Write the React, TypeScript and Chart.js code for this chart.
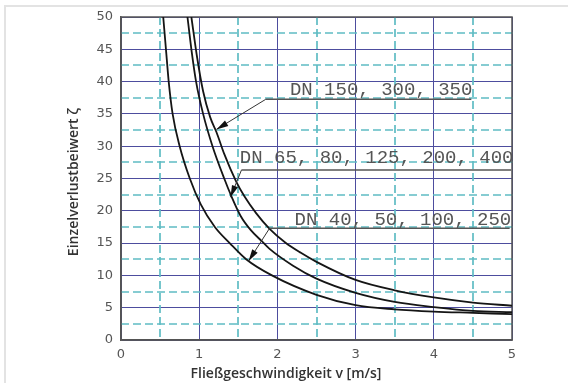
import React, { useEffect, useRef } from "react";
import { Chart, registerables } from "chart.js";

Chart.register(...registerables);

// Curve DN 150, 300, 350 (upper)
const V_UPPER = [0.9, 0.97, 1.05, 1.14, 1.22, 1.32, 1.47, 1.58, 1.73, 1.9, 2.1, 2.3, 2.5, 3, 3.5, 4, 4.5, 5];
const Z_UPPER = [50, 44, 38.5, 34.5, 32.2, 28.8, 24.6, 22.2, 19.6, 17.2, 15.1, 13.5, 12.1, 9.3, 7.7, 6.6, 5.8, 5.3];

// Curve DN 65, 80, 125, 200, 400 (middle)
const V_MID = [0.85, 0.9, 0.96, 1.05, 1.17, 1.32, 1.41, 1.53, 1.66, 1.8, 1.9, 2.2, 2.5, 3, 3.5, 4, 4.5, 5];
const Z_MID = [50, 45, 40, 35, 30, 25, 22.3, 19.2, 17, 15.3, 14.1, 11.5, 9.5, 7.3, 5.9, 5.1, 4.5, 4.3];

// Curve DN 40, 50, 100, 250 (lower)
const V_LOW = [0.54, 0.575, 0.61, 0.66, 0.75, 0.88, 1.02, 1.2, 1.39, 1.6, 1.93, 2.5, 3, 3.5, 4, 4.5, 5];
const Z_LOW = [50, 45, 40, 35, 30, 25, 21, 17.5, 15, 12.5, 10, 7, 5.4, 4.75, 4.4, 4.2, 4.0];

const SERIES_LABELS = ["DN 150, 300, 350", "DN 65, 80, 125, 200, 400", "DN 40, 50, 100, 250"];
const X_TITLE = "Fließgeschwindigkeit v [m/s]";
const Y_TITLE = "Einzelverlustbeiwert ζ";

const X_MIN = 0, X_MAX = 5, X_STEP = 1;
const Y_MIN = 0, Y_MAX = 50, Y_STEP = 5;

// annotation anchors (data units)
const LABEL_TEXT_X = [2.16, 1.52, 2.22];
const LABEL_BASE_Y = [37.9, 27.35, 17.8];
const LINE_Y = [37.25, 26.3, 17.3];
const LINE_X0 = [1.85, 1.54, 1.9];
const LINE_X1 = [4.48, 4.99, 4.97];
const TIP_X = [1.22, 1.4, 1.63];
const TIP_Y = [32.6, 22.1, 12.2];

const toPts = (xs: number[], ys: number[]) => xs.map((x, i) => ({ x, y: ys[i] }));

const decor = {
  id: "decor",
  beforeDraw(chart: any) {
    const { ctx } = chart;
    ctx.save();
    ctx.strokeStyle = "#e3e3e3";
    ctx.lineWidth = 2;
    ctx.beginPath();
    ctx.moveTo(5, 383);
    ctx.lineTo(5, 6);
    ctx.lineTo(568, 6);
    ctx.stroke();
    ctx.restore();
  },
  beforeDatasetsDraw(chart: any) {
    const { ctx, chartArea: a, scales } = chart;
    const x = scales.x, y = scales.y;
    ctx.save();
    ctx.strokeStyle = "#5fbcc4";
    ctx.lineWidth = 1.7;
    ctx.setLineDash([8, 4]);
    for (let v = X_MIN + X_STEP / 2; v < X_MAX; v += X_STEP) {
      const px = Math.round(x.getPixelForValue(v));
      ctx.beginPath();
      ctx.moveTo(px, a.top);
      ctx.lineTo(px, a.bottom);
      ctx.stroke();
    }
    for (let z = Y_MIN + Y_STEP / 2; z < Y_MAX; z += Y_STEP) {
      const py = Math.round(y.getPixelForValue(z));
      ctx.beginPath();
      ctx.moveTo(a.left, py);
      ctx.lineTo(a.right + 3, py);
      ctx.stroke();
    }
    ctx.setLineDash([]);
    ctx.strokeStyle = "#555";
    ctx.lineWidth = 1.5;
    ctx.strokeRect(a.left, a.top, a.right - a.left, a.bottom - a.top);
    ctx.restore();
  },
  afterDatasetsDraw(chart: any) {
    const { ctx, scales } = chart;
    const x = scales.x, y = scales.y;
    ctx.save();
    ctx.font = "19px 'Liberation Mono'";
    ctx.textBaseline = "alphabetic";
    ctx.textAlign = "left";
    for (let i = 0; i < SERIES_LABELS.length; i++) {
      ctx.fillStyle = "#555";
      ctx.fillText(SERIES_LABELS[i], x.getPixelForValue(LABEL_TEXT_X[i]), y.getPixelForValue(LABEL_BASE_Y[i]));
      const ly = y.getPixelForValue(LINE_Y[i]);
      const lx0 = x.getPixelForValue(LINE_X0[i]);
      const lx1 = x.getPixelForValue(LINE_X1[i]);
      const tx = x.getPixelForValue(TIP_X[i]);
      const ty = y.getPixelForValue(TIP_Y[i]);
      ctx.strokeStyle = "#555";
      ctx.lineWidth = 1.5;
      ctx.beginPath();
      ctx.moveTo(lx1, ly);
      ctx.lineTo(lx0, ly);
      ctx.stroke();
      ctx.lineWidth = 1;
      ctx.strokeStyle = "#333";
      ctx.beginPath();
      ctx.moveTo(lx0, ly);
      ctx.lineTo(tx, ty);
      ctx.stroke();
      const ang = Math.atan2(ty - ly, tx - lx0);
      const L = 12, W = 3.2;
      const bx = tx - L * Math.cos(ang), by = ty - L * Math.sin(ang);
      ctx.fillStyle = "#111";
      ctx.beginPath();
      ctx.moveTo(tx, ty);
      ctx.lineTo(bx + W * Math.sin(ang), by - W * Math.cos(ang));
      ctx.lineTo(bx - W * Math.sin(ang), by + W * Math.cos(ang));
      ctx.closePath();
      ctx.fill();
    }
    ctx.restore();
  },
  afterDraw(chart: any) {
    const { ctx } = chart;
    ctx.save();
    ctx.fillStyle = "#333";
    ctx.font = "600 14px 'Open Sans'";
    ctx.textAlign = "center";
    ctx.textBaseline = "alphabetic";
    ctx.fillText(X_TITLE, 286, 378);
    ctx.translate(78, 182);
    ctx.rotate(-Math.PI / 2);
    ctx.fillText(Y_TITLE, 0, 0);
    ctx.restore();
  },
};

export default function App() {
  const ref = useRef<HTMLCanvasElement | null>(null);
  useEffect(() => {
    if (!ref.current) return;
    const line = (xs: number[], ys: number[], label: string) => ({
      label,
      data: toPts(xs, ys),
      showLine: true,
      borderColor: "#151515",
      borderWidth: 1.8,
      pointRadius: 0,
      cubicInterpolationMode: "monotone" as const,
      fill: false,
    });
    const chart = new Chart(ref.current, {
      type: "scatter",
      data: {
        datasets: [
          line(V_UPPER, Z_UPPER, SERIES_LABELS[0]),
          line(V_MID, Z_MID, SERIES_LABELS[1]),
          line(V_LOW, Z_LOW, SERIES_LABELS[2]),
        ],
      },
      options: {
        animation: false,
        responsive: false,
        devicePixelRatio: 1,
        layout: { padding: { top: 17, right: 56, left: 0, bottom: 0 } },
        plugins: { legend: { display: false }, tooltip: { enabled: false }, title: { display: false } },
        scales: {
          x: {
            type: "linear",
            min: X_MIN,
            max: X_MAX,
            ticks: { stepSize: X_STEP, padding: 7, color: "#555", font: { family: "'DejaVu Sans'", size: 13 } },
            grid: { color: "#4d4d9e", lineWidth: 1, drawTicks: false },
            border: { display: true, color: "#555", width: 1.5 },
            afterFit: (s: any) => { s.height = 43; },
          },
          y: {
            type: "linear",
            min: Y_MIN,
            max: Y_MAX,
            ticks: { stepSize: Y_STEP, padding: 8, color: "#555", font: { family: "'DejaVu Sans'", size: 13 } },
            grid: { color: "#4d4d9e", lineWidth: 1, drawTicks: false },
            border: { display: true, color: "#555", width: 1.5 },
            afterFit: (s: any) => { s.width = 121; },
          },
        },
      },
      plugins: [decor],
    } as any);
    return () => chart.destroy();
  }, []);
  return (
    <div style={{ position: "fixed", left: 0, top: 0, width: 568, height: 383, background: "#fff" }}>
      <canvas ref={ref} width={568} height={383} style={{ display: "block", width: 568, height: 383 }} />
    </div>
  );
}
